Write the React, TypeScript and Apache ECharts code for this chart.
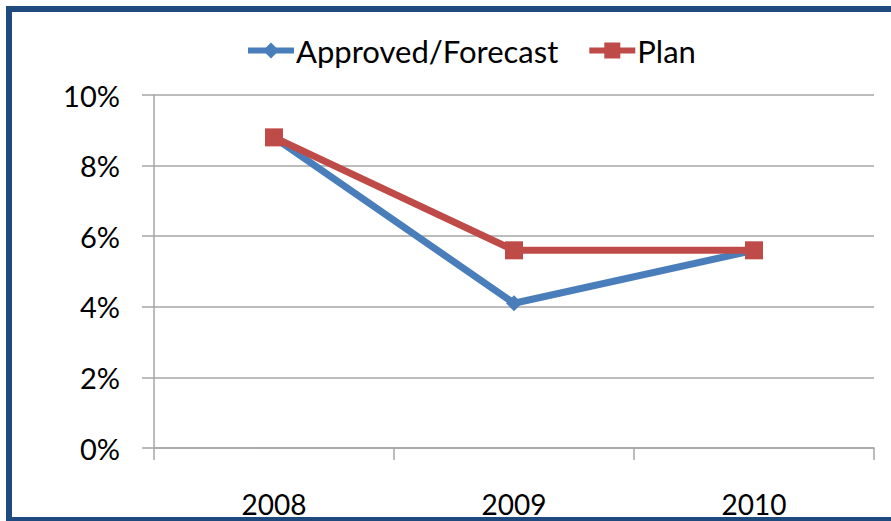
import React, { useEffect, useRef } from "react";
import * as echarts from "echarts";

const categories = ["2008", "2009", "2010"];
const approvedForecast = [8.8, 4.1, 5.6];
const plan = [8.8, 5.6, 5.6];
const yTicks = { min: 0, max: 10, interval: 2 };

export default function App() {
  const ref = useRef<HTMLDivElement>(null);
  useEffect(() => {
    const chart = echarts.init(ref.current!, null, { renderer: "svg" });
    const font = "Lato";
    chart.setOption({
      animation: false,
      backgroundColor: "#ffffff",
      textStyle: { fontFamily: font },
      graphic: [
        {
          type: "rect",
          shape: { x: 9, y: 9, width: 900, height: 511 },
          style: { fill: "none", stroke: "#1F4A7E", lineWidth: 6 },
          z: 100,
        },
      ],
      legend: {
        top: 30,
        left: 240,
        itemWidth: 46,
        itemHeight: 20,
        itemGap: 28,
        lineStyle: { width: 6 },
        textStyle: { fontFamily: font, fontSize: 31, color: "#000", padding: [0, 0, 0, -3] },
        data: ["Approved/Forecast", "Plan"],
      },
      grid: { left: 154, right: 17, top: 95, bottom: 73 },
      xAxis: {
        type: "category",
        data: categories,
        boundaryGap: true,
        axisLine: { lineStyle: { color: "#a6a6a6", width: 1.5 } },
        axisTick: { show: true, length: 12, lineStyle: { color: "#a6a6a6", width: 1.5 } },
        axisLabel: { margin: 42, fontSize: 28, color: "#000", fontFamily: font },
        splitLine: { show: false },
      },
      yAxis: {
        type: "value",
        min: yTicks.min,
        max: yTicks.max,
        interval: yTicks.interval,
        axisLine: { show: true, lineStyle: { color: "#a6a6a6", width: 1.5 } },
        axisTick: { show: true, length: 12, lineStyle: { color: "#a6a6a6", width: 1.5 } },
        axisLabel: { margin: 34, fontSize: 29, color: "#000", fontFamily: font, formatter: "{value}%" },
        splitLine: { show: true, lineStyle: { color: "#a6a6a6", width: 1.5 } },
      },
      series: [
        {
          name: "Approved/Forecast",
          type: "line",
          data: approvedForecast,
          symbol: "diamond",
          symbolSize: 16,
          lineStyle: { color: "#4A7EBB", width: 7 },
          itemStyle: { color: "#4A7EBB" },
          z: 2,
        },
        {
          name: "Plan",
          type: "line",
          data: plan,
          symbol: "rect",
          symbolSize: 18,
          lineStyle: { color: "#BE4B48", width: 7 },
          itemStyle: { color: "#BE4B48" },
          z: 3,
        },
      ],
    });
    return () => chart.dispose();
  }, []);
  return (
    <div
      ref={ref}
      style={{ position: "fixed", left: 0, top: 0, width: 891, height: 521 }}
    />
  );
}
